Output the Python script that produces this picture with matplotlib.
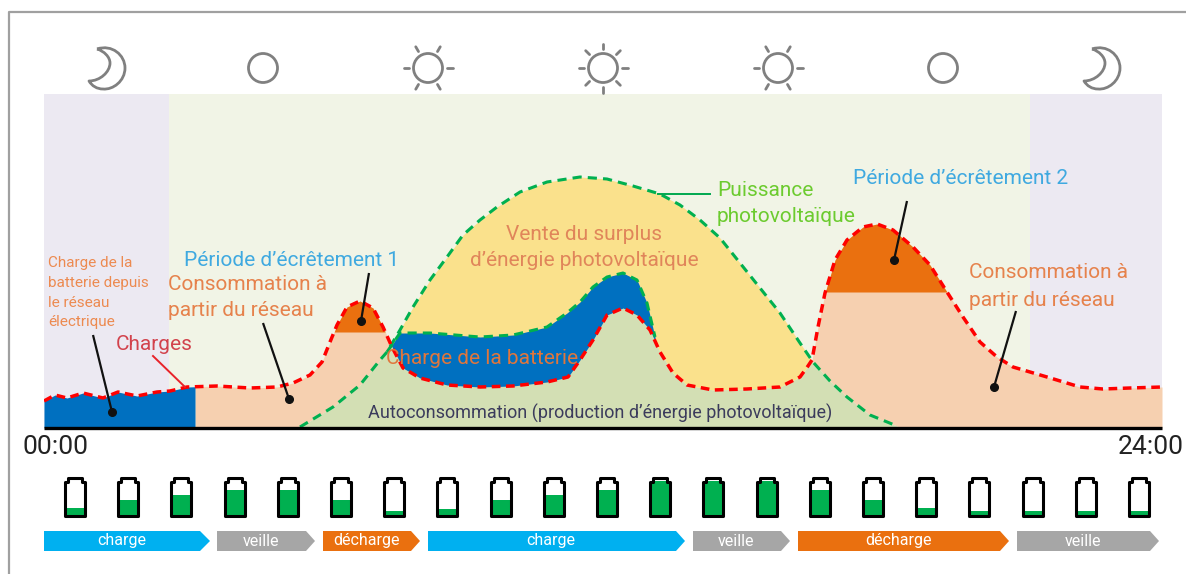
import numpy as np
import matplotlib
matplotlib.use('Agg')
import matplotlib.pyplot as plt
from matplotlib.patches import PathPatch, Polygon, Circle, Rectangle
from matplotlib.path import Path

plt.rcParams['font.family'] = ['Roboto', 'DejaVu Sans']

# chart units: time 0-1118 = 00:00-24:00, power 0-334
load_t = [0, 11, 23, 39, 59, 74, 93, 113, 126, 143, 173, 206, 233, 249, 266, 278, 286, 293, 303, 316,
          329, 339, 348, 359, 376, 403, 436, 469, 503, 524, 536, 549, 563, 579, 593, 606, 616, 629, 643, 669,
          703, 736, 756, 764, 768, 774, 781, 791, 803, 819, 833, 849, 869, 886, 903, 919, 936, 953, 969,
          1003, 1036, 1059, 1086, 1118]
load_y = [27, 33, 30, 35, 30, 36, 32, 36, 37, 41, 42, 40, 41, 45, 53, 66, 86, 103, 121, 127,
          120, 101, 81, 60, 50, 43, 41, 42, 46, 51, 68, 88, 113, 120, 113, 98, 76, 55, 43, 38,
          39, 41, 51, 62, 68, 101, 135, 168, 188, 201, 204, 198, 181, 163, 136, 111, 86, 71, 61,
          51, 41, 39, 40, 41]
pv_t = [256, 289, 316, 336, 343, 356, 369, 386, 403, 419, 436, 453, 476, 503, 536, 563, 589, 616, 636,
        656, 676, 696, 716, 736, 756, 769, 786, 803, 826, 853]
pv_y = [1, 21, 43, 68, 76, 98, 121, 148, 171, 193, 208, 221, 236, 246, 251, 249, 242, 234, 223,
        208, 190, 165, 140, 115, 85, 66, 47, 31, 13, 2]
batt_t = [343, 356, 386, 436, 469, 503, 523, 536, 549, 563, 579, 593, 603, 611]
batt_y = [76, 95, 95, 91, 93, 101, 115, 126, 141, 151, 155, 148, 125, 91]

peak1_level = 96
peak2_level = 136
grid_charge_end = 151

battery_levels = [20, 44, 59, 74, 74, 44, 11, 17, 44, 59, 74, 100, 100, 100, 74, 44, 20, 11, 11, 11, 11]
phase_labels = ['charge', 'veille', 'décharge', 'charge', 'veille', 'décharge', 'veille']

fig = plt.figure(figsize=(11.86, 5.74), dpi=100)
ax = fig.add_axes([44 / 1186, 1 - 428 / 574, 1118 / 1186, 334 / 574])
ax.set_xlim(0, 1118)
ax.set_ylim(0, 334)
ax.axis('off')

# background
ax.axvspan(0, 125, color='#ECE9F2', lw=0)
ax.axvspan(125, 986, color='#F1F4E6', lw=0)
ax.axvspan(986, 1118, color='#ECE9F2', lw=0)

t = np.linspace(0, 1118, 4473)
load = np.interp(t, load_t, load_y)
pv = np.interp(t, pv_t, pv_y, left=0, right=0)
batt = np.interp(t, batt_t, batt_y, left=0, right=0)
low = np.minimum(load, pv)

ax.fill_between(t, low, load, where=t >= grid_charge_end, color='#F6D0B0', lw=0)
ax.fill_between(t, 0, low, color='#D3DFB4', lw=0)
ax.fill_between(t, load, pv, where=pv > load, color='#FAE18C', lw=0)
ax.fill_between(t, 0, load, where=t <= grid_charge_end, color='#0070C0', lw=0)
ax.fill_between(t, load, batt, where=(batt > load) & (t <= 611), color='#0070C0', lw=0)
ax.fill_between(t, peak1_level, load, where=(load > peak1_level) & (t < 400), color='#EA700F', lw=0)
ax.fill_between(t, peak2_level, load, where=(load > peak2_level) & (t > 700), color='#EA700F', lw=0)

ax.plot(pv_t, pv_y, color='#00B050', lw=2.2, dashes=(3.0, 2.0))
ax.plot(batt_t, batt_y, color='#00B050', lw=2.2, dashes=(3.0, 2.0))
ax.plot(load_t, load_y, color='#FF0000', lw=2.5, dashes=(2.5, 1.6))

# everything else in pixels
ov = fig.add_axes([0, 0, 1, 1], facecolor='none')
ov.set_xlim(0, 1186)
ov.set_ylim(574, 0)
ov.axis('off')

# frame and base line
ov.plot([8.5, 8.5, 1186], [574, 12, 12], color='#A0A0A0', lw=1.6)
ov.plot([44, 1162], [428, 428], color='black', lw=2.4, solid_capstyle='butt')

grey = '#808080'


def moon(dx):
    pts = [(97, 49), (112, 44), (125, 55), (125, 68), (125, 81), (113, 90), (103, 89),
           (97, 89), (92, 86), (89, 81), (100, 81), (110, 72), (110, 63), (110, 57), (104, 51), (97, 49)]
    codes = [Path.MOVETO] + [Path.CURVE4] * 15
    ov.add_patch(PathPatch(Path([(x + dx, y) for x, y in pts], codes), fc='none', ec=grey, lw=2, joinstyle='round'))


def sun(cx, angles):
    ov.add_patch(Circle((cx, 68), 14.5, fc='none', ec=grey, lw=2))
    for a in angles:
        c, s = np.cos(np.radians(a)), np.sin(np.radians(a))
        ov.plot([cx + 19 * c, cx + 24.5 * c], [68 + 19 * s, 68 + 24.5 * s], color=grey, lw=2, solid_capstyle='round')


moon(0)
moon(995)
ov.add_patch(Circle((263, 68), 14.5, fc='none', ec=grey, lw=2))
ov.add_patch(Circle((943, 68), 14.5, fc='none', ec=grey, lw=2))
six = [0, 60, 120, 180, 240, 300]
eight = [0, 45, 90, 135, 180, 225, 270, 315]
sun(428, six)
sun(603, eight)
sun(778, six)

# leader lines with dots
leaders = [((93, 335), (112, 412)), ((263, 323), (289, 399)), ((369, 273), (361, 321)),
           ((907, 201), (894, 260)), ((1016, 311), (994, 387))]
for (x0, y0), (x1, y1) in leaders:
    ov.plot([x0, x1], [y0, y1], color='#111111', lw=1.6, solid_capstyle='butt')
    ov.plot(x1, y1, 'o', color='#111111', ms=5.5)
ov.plot([153, 185], [356, 387], color='#E8232A', lw=1.4)
ov.plot([658, 710], [194, 194], color='#00A84F', lw=1.4)

# labels
orange = '#E6824C'
blue = '#3FA9E0'
txt = dict(va='center', ha='left')
for s, y in zip(['Charge de la', 'batterie depuis', 'le réseau', 'électrique'], [263, 283, 303, 322]):
    ov.text(48, y, s, color='#EC8A50', fontsize=11, **txt)
ov.text(116, 344, 'Charges', color='#D2424C', fontsize=15, **txt)
ov.text(184, 261, 'Période d’écrêtement 1', color=blue, fontsize=15, **txt)
ov.text(168, 285, 'Consommation à', color=orange, fontsize=15, **txt)
ov.text(168, 311, 'partir du réseau', color=orange, fontsize=15, **txt)
ov.text(584, 235, 'Vente du surplus', color='#E0855A', fontsize=15, va='center', ha='center')
ov.text(584, 260, 'd’énergie photovoltaïque', color='#E0855A', fontsize=15, va='center', ha='center')
ov.text(717, 190, 'Puissance', color='#6CCB2F', fontsize=15, **txt)
ov.text(717, 216, 'photovoltaïque', color='#6CCB2F', fontsize=15, **txt)
ov.text(853, 179, 'Période d’écrêtement 2', color=blue, fontsize=15, **txt)
ov.text(969, 272, 'Consommation à', color=orange, fontsize=15, **txt)
ov.text(969, 301, 'partir du réseau', color=orange, fontsize=15, **txt)
ov.text(386, 358, 'Charge de la batterie', color='#E0763C', fontsize=15, **txt)
ov.text(368, 413, 'Autoconsommation (production d’énergie photovoltaïque)', color='#3B3B5C', fontsize=13, **txt)
ov.text(22, 447, '00:00', color='#222222', fontsize=19, **txt)
ov.text(1184, 447, '24:00', color='#222222', fontsize=19, va='center', ha='right')

# batteries
for i, level in enumerate(battery_levels):
    cx = 75 + i * 53.2
    h = 33.5 * level / 100
    ov.add_patch(Rectangle((cx - 9, 514.5 - h), 18, h, fc='#00B050', ec='none'))
    shell = [(cx - 10, 515.5), (cx - 10, 481.5), (cx - 7, 481.5), (cx - 7, 478), (cx + 7, 478),
             (cx + 7, 481.5), (cx + 10, 481.5), (cx + 10, 515.5)]
    ov.add_patch(Polygon(shell, closed=True, fc='none', ec='black', lw=2.2, joinstyle='round'))

# phase arrows
phase_x0 = [44, 217, 323, 428, 693, 798, 1017]
phase_x1 = [200, 306, 411, 676, 781, 1000, 1150]
phase_tip = [210, 315, 420, 685, 790, 1009, 1159]
phase_colors = ['#00B0F0', '#A6A6A6', '#EA700F', '#00B0F0', '#A6A6A6', '#EA700F', '#A6A6A6']
phase_text_x = [122, 261, 366, 551, 736, 899, 1083]
for x0, x1, tip, c, s, tx in zip(phase_x0, phase_x1, phase_tip, phase_colors, phase_labels, phase_text_x):
    ov.add_patch(Polygon([(x0, 531), (x1, 531), (tip, 541), (x1, 551), (x0, 551)], closed=True, fc=c, ec='none'))
    ov.text(tx, 541, s, color='white', fontsize=11.5, va='center', ha='center')

fig.savefig('out.png', dpi=100)
